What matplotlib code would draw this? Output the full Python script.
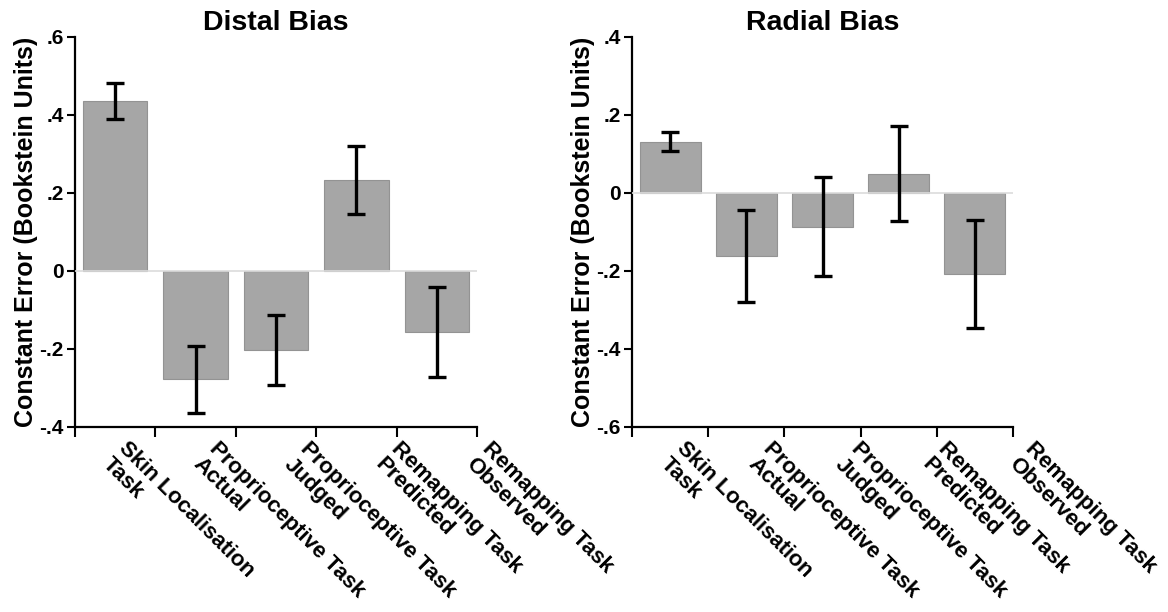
import numpy as np
import matplotlib.pyplot as plt
from matplotlib.transforms import ScaledTranslation

plt.rcParams['font.family'] = ['Liberation Sans', 'DejaVu Sans']
plt.rcParams['font.weight'] = 'bold'

categories = ['Skin Localisation\nTask', 'Proprioceptive Task\nActual',
              'Proprioceptive Task\nJudged', 'Remapping Task\nPredicted',
              'Remapping Task\nObserved']

distal_mean = [0.436, -0.278, -0.203, 0.233, -0.156]
distal_err = [0.045, 0.086, 0.090, 0.087, 0.116]

radial_mean = [0.132, -0.161, -0.086, 0.049, -0.207]
radial_err = [0.024, 0.118, 0.127, 0.122, 0.138]

distal_ticks = [-0.4, -0.2, 0, 0.2, 0.4, 0.6]
distal_ticklabels = ['-.4', '-.2', '0', '.2', '.4', '.6']
radial_ticks = [-0.6, -0.4, -0.2, 0, 0.2, 0.4]
radial_ticklabels = ['-.6', '-.4', '-.2', '0', '.2', '.4']

fig = plt.figure(figsize=(11.68, 6.12), dpi=100)
W, H = 1168, 612


def panel(rect, title, means, errs, ticks, ticklabels, dx0, step):
    x0, y0, x1, y1 = rect
    ax = fig.add_axes([x0 / W, 1 - y1 / H, (x1 - x0) / W, (y1 - y0) / H])
    x = np.arange(len(means))
    ax.bar(x, means, width=0.8, color='#a6a6a6', edgecolor='#939393',
           linewidth=0.8, zorder=2)
    ax.errorbar(x, means, yerr=errs, fmt='none', ecolor='black',
                elinewidth=2.4, capsize=6.5, capthick=2.4, zorder=4)
    ax.axhline(0, color='#dcdcdc', lw=1.2, zorder=3)
    ax.set_xlim(-0.5, len(means) - 0.5)
    ax.set_ylim(ticks[0], ticks[-1])
    ax.set_yticks(ticks)
    ax.set_yticklabels(ticklabels, fontsize=15, fontweight='bold')
    # ticks at category boundaries, labels drawn near the centres
    # (the original labels fan out a little wider than the bars)
    ax.set_xticks(np.arange(-0.5, len(means)), labels=[''] * (len(means) + 1))
    for xi, cat in zip(x, categories):
        trans = ax.get_xaxis_transform() + ScaledTranslation(
            dx0 + xi * step, -0.11, fig.dpi_scale_trans)
        ax.text(xi, 0, cat, transform=trans, rotation=-45, ha='left',
                va='top', rotation_mode='anchor', fontsize=16,
                fontweight='bold', linespacing=1.1, clip_on=False)
    ax.tick_params(axis='x', length=7, width=1.5, direction='out')
    ax.tick_params(axis='y', length=6, width=1.5, pad=2)
    for s in ['top', 'right']:
        ax.spines[s].set_visible(False)
    for s in ['left', 'bottom']:
        ax.spines[s].set_linewidth(1.6)
    ax.set_title(title, fontsize=20.5, fontweight='bold', pad=5)
    ax.set_ylabel('Constant Error (Bookstein Units)', fontsize=18,
                  fontweight='bold', labelpad=1)
    return ax


panel((75, 37, 477, 427), 'Distal Bias', distal_mean, distal_err,
      distal_ticks, distal_ticklabels, 0.14, 0.105)
panel((632, 37, 1013, 427), 'Radial Bias', radial_mean, radial_err,
      radial_ticks, radial_ticklabels, 0.17, 0.11)

fig.savefig('out.png', dpi=100)
